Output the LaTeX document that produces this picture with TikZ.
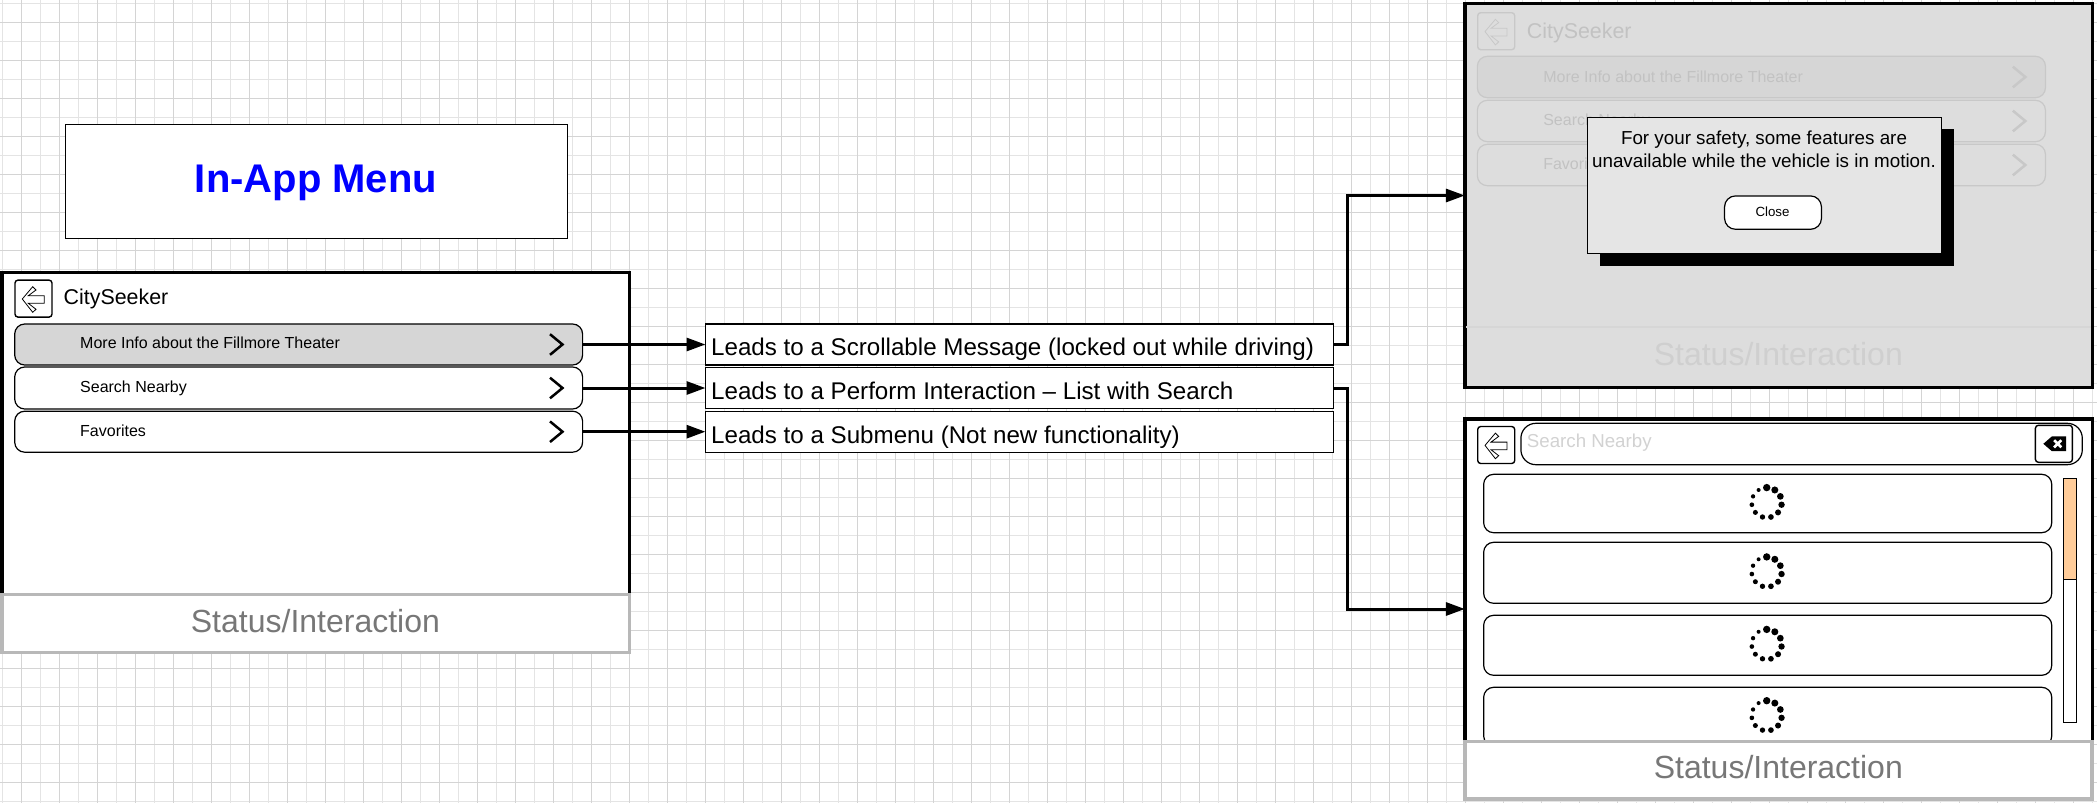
\documentclass[tikz,border=0pt]{standalone}
\usepackage{fontspec}
\setmainfont{Liberation Sans}
\usepackage{xcolor}
\usetikzlibrary{arrows.meta}
\definecolor{gridlight}{HTML}{E4E4E4}
\definecolor{gridstrong}{HTML}{D4D4D4}
\definecolor{selrow}{HTML}{D6D6D6}
\definecolor{statusline}{HTML}{B8B8B8}
\definecolor{statustext}{HTML}{777777}
\definecolor{fadebg}{HTML}{DDDDDD}
\definecolor{fadeline}{HTML}{C8C8C8}
\definecolor{fadetext}{HTML}{C2C2C2}
\definecolor{fadestatus}{HTML}{CFCFCF}
\definecolor{popbg}{HTML}{E5E5E5}
\definecolor{hint}{HTML}{D2D2D2}
\definecolor{thumb}{HTML}{FFCC99}
\newcommand\fsize[1]{\fontsize{#1}{#1}\selectfont}
\tikzstyle{boxbase}=[draw,line width=1.2pt,inner sep=0pt,outer sep=0pt]
\tikzstyle{rowbox}=[boxbase,fill=white,rounded corners=10pt,minimum width=567.9pt]
\tikzstyle{leadbox}=[boxbase,fill=white,minimum width=628.1pt]
\tikzstyle{screen}=[draw,line width=3.2pt,fill=white,inner sep=0pt,outer sep=0pt]
\tikzstyle{statusbox}=[draw=statusline,line width=3.4pt,fill=white,inner sep=0pt,outer sep=0pt]
\tikzstyle{iconbox}=[boxbase,line width=1.4pt,fill=white,rounded corners=3pt,minimum width=37pt,minimum height=37pt]
\tikzstyle{txt}=[anchor=base west,inner sep=0pt]
\tikzstyle{rowtxt}=[txt,font=\fsize{16}]
\tikzstyle{headtxt}=[txt,font=\fsize{21.4}]
\tikzstyle{leadtxt}=[txt,font=\fsize{24.15}]
\tikzstyle{stattxt}=[anchor=base,inner sep=0pt,font=\fsize{32}]
\tikzstyle{link}=[line width=3pt,-{Triangle[length=19pt,width=13pt]}]
\newcommand\chev[2]{\draw[#2,line width=2.5pt,shift={(#1.east)}] (-32.6,-10.3) -- (-20.1,0) -- (-32.6,10.3);}
\newcommand\backglyph[2]{\draw[#2,line width=.8pt,shift={(#1.north west)}] (7.3,18.9) -- (17.7,6.6) -- (21,9.9) -- (13.3,15.6) -- (29.3,15.6) -- (29.3,23.2) -- (13.3,23.2) -- (21,29.2) -- (17.7,32.2) -- cycle;}
\newcommand\spinner[1]{\foreach \i in {0,...,10} {\fill (#1) ++(-1,-.9) ++(-90+\i*32.727:15) circle ({(3.7-\i*.17)*1pt});}}
\begin{document}
\begin{tikzpicture}[x=1pt,y=-1pt]
	\useasboundingbox (0,0) rectangle (2097,803);
	% grid
	\foreach \x in {2.3,40.3,...,2097} {\draw[gridlight,line width=1pt] (\x,0) -- (\x,803);}
	\foreach \y in {3.3,41.3,...,803} {\draw[gridlight,line width=1pt] (0,\y) -- (2097,\y);}
	\foreach \x in {21.3,59.3,...,2097} {\draw[gridstrong,line width=1pt] (\x,0) -- (\x,803);}
	\foreach \y in {22.3,60.3,...,803} {\draw[gridstrong,line width=1pt] (0,\y) -- (2097,\y);}
	% title
	\node[boxbase,fill=white,minimum width=501.8pt,minimum height=114pt] (title) at (316.5,181.3) {};
	\node[anchor=base,inner sep=0pt,text=blue,font=\fsize{40}\bfseries] (titletxt) at (316,192.3) {In-App Menu};
	% menu screen
	\node[screen,minimum width=627.5pt,minimum height=380pt] (menu) at (315.75,462.3) {};
	\node[iconbox] (menuback) at (33.5,298.6) {};
	\backglyph{menuback}{black}
	\node[headtxt] (menuhead) at (63.5,304.3) {CitySeeker};
	\node[rowbox,fill=selrow,minimum height=41pt] (rowA) at (298.65,344.5) {};
	\node[rowbox,minimum height=42pt] (rowB) at (298.65,388) {};
	\node[rowbox,minimum height=41pt] (rowC) at (298.65,431.7) {};
	\node[rowtxt] (rowAtxt) at (80,348.3) {More Info about the Fillmore Theater};
	\node[rowtxt] (rowBtxt) at (80,392.2) {Search Nearby};
	\node[rowtxt] (rowCtxt) at (80,436.2) {Favorites};
	\chev{rowA}{black}
	\chev{rowB}{black}
	\chev{rowC}{black}
	\node[statusbox,minimum width=627.5pt,minimum height=58pt] (menustatus) at (315.75,623.3) {};
	\node[stattxt,text=statustext] (menustatustxt) at (315.4,632.7) {Status/Interaction};
	% outcomes
	\node[leadbox,minimum height=41pt] (leadA) at (1019.55,344.5) {};
	\node[leadbox,minimum height=41.6pt] (leadB) at (1019.55,388) {};
	\node[leadbox,minimum height=41pt] (leadC) at (1019.55,431.7) {};
	\node[leadtxt] (leadAtxt) at (711,355.7) {Leads to a Scrollable Message (locked out while driving)};
	\node[leadtxt] (leadBtxt) at (711,399.7) {Leads to a Perform Interaction – List with Search};
	\node[leadtxt] (leadCtxt) at (711,443.7) {Leads to a Submenu (Not new functionality)};
	% locked out screen
	\node[screen,fill=fadebg,minimum width=627.2pt,minimum height=383.6pt] (lock) at (1778.5,195.5) {};
	\node[iconbox,draw=fadeline,fill=fadebg] (lockback) at (1496.2,31.2) {};
	\backglyph{lockback}{fadeline}
	\node[headtxt,text=fadetext] (lockhead) at (1526.7,38.3) {CitySeeker};
	\node[rowbox,draw=fadeline,fill=selrow,minimum width=568.1pt,minimum height=41.4pt] (lockA) at (1761.4,77) {};
	\node[rowbox,draw=fadeline,fill=fadebg,minimum width=568.1pt,minimum height=41.4pt] (lockB) at (1761.4,121) {};
	\node[rowbox,draw=fadeline,fill=fadebg,minimum width=568.1pt,minimum height=41.4pt] (lockC) at (1761.4,165) {};
	\node[rowtxt,text=fadetext] (lockAtxt) at (1543.1,82) {More Info about the Fillmore Theater};
	\node[rowtxt,text=fadetext] (lockBtxt) at (1543.1,125) {Search Nearby};
	\node[rowtxt,text=fadetext] (lockCtxt) at (1543.1,169) {Favorites};
	\chev{lockA}{fadeline}
	\chev{lockB}{fadeline}
	\chev{lockC}{fadeline}
	\node[inner sep=0pt,minimum width=627.2pt,minimum height=61.6pt] (lockstatus) at (1778.5,357.5) {};
	\draw[selrow,line width=2pt,shorten >=1.6pt,shorten <=1.6pt] (lockstatus.north west) -- (lockstatus.north east);
	\node[stattxt,text=fadestatus] (lockstatustxt) at (1778.3,365.5) {Status/Interaction};
	% popup
	\node[fill=black,inner sep=0pt,minimum width=354.3pt,minimum height=137pt] (popshadow) at (1776.8,197.5) {};
	\node[boxbase,fill=popbg,minimum width=353.8pt,minimum height=135.6pt] (popup) at (1764.5,185.5) {};
	\node[inner sep=0pt,align=center,font=\fontsize{18.8}{23}\selectfont] (poptxt) at (1764,149.5) {For your safety, some features are\\unavailable while the vehicle is in motion.};
	\node[boxbase,fill=white,rounded corners=11pt,minimum width=96.9pt,minimum height=33.4pt] (close) at (1773,212.6) {};
	\node[anchor=base,inner sep=0pt,font=\fsize{13.3}] (closetxt) at (1772.5,216.2) {Close};
	% search screen
	\node[screen,minimum width=627.2pt,minimum height=380pt] (find) at (1778.5,609) {};
	\node[iconbox] (findback) at (1496.2,445) {};
	\backglyph{findback}{black}
	\node[boxbase,fill=white,rounded corners=15pt,minimum width=561.4pt,minimum height=41.4pt] (findbar) at (1801.6,444) {};
	\node[txt,text=hint,font=\fsize{18.7}] (findbartxt) at (1526.7,447.6) {Search Nearby};
	\node[iconbox] (clear) at (2053.9,443.8) {};
	\fill[shift={(clear.center)}] (-10.6,0) -- (-2,-7.4) -- (12.1,-7.4) -- (12.1,7.4) -- (-2,7.4) -- cycle;
	\draw[white,line width=2.6pt,shift={(clear.center)}] (0.2,-3.6) -- (7.4,3.6) (0.2,3.6) -- (7.4,-3.6);
	\node[rowbox,minimum width=568.1pt,minimum height=58.4pt] (findA) at (1767.7,503.5) {};
	\node[rowbox,minimum width=568.1pt,minimum height=61pt] (findB) at (1767.7,572.8) {};
	\node[rowbox,minimum width=568.1pt,minimum height=60pt] (findC) at (1767.7,645.3) {};
	\node[rowbox,minimum width=568.1pt,minimum height=58.6pt] (findD) at (1767.7,716.6) {};
	\spinner{findA.center}
	\spinner{findB.center}
	\spinner{findC.center}
	\spinner{findD.center}
	\node[boxbase,fill=white,minimum width=13.2pt,minimum height=244.4pt] (track) at (2070,600.5) {};
	\node[boxbase,fill=thumb,minimum width=13.2pt,minimum height=101pt,anchor=north] (knob) at (track.north) {};
	\node[statusbox,minimum width=627.2pt,minimum height=57.3pt] (findstatus) at (1778.5,770.35) {};
	\node[stattxt,text=statustext] (findstatustxt) at (1778.3,778.7) {Status/Interaction};
	% connectors
	\draw[link] (rowA.east) -- (leadA.west);
	\draw[link] (rowB.east) -- (leadB.west);
	\draw[link] (rowC.east) -- (leadC.west);
	\draw[link] (leadA.east) -- ++(13.5,0) |- (lock.west);
	\draw[link] (leadB.east) -- ++(13.5,0) |- (find.west);
\end{tikzpicture}
\end{document}
